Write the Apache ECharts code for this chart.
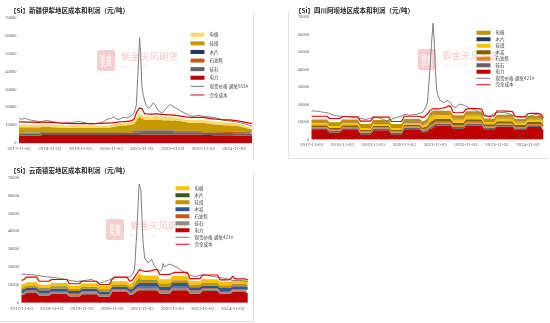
<!DOCTYPE html>
<html><head><meta charset="utf-8">
<script src="https://cdn.jsdelivr.net/npm/echarts@6/dist/echarts.min.js"></script>
<style>html,body{margin:0;padding:0;background:#fff}#c{width:550px;height:323px}</style>
</head><body><div id="c"></div>
<script>
// ---------- tick labels / categories ----------
const xTickLabels = ['2017-11-03','2018-11-03','2019-11-03','2020-11-03','2021-11-03','2022-11-03','2023-11-03','2024-11-03'];
const yTicks = [0,10000,20000,30000,40000,50000,60000,70000];
function monthCats(n){const out=[];let y=2017,m=11;for(let i=0;i<n;i++){out.push(y+'-'+String(m).padStart(2,'0')+'-03');m++;if(m>12){m=1;y++;}}return out;}

// ---------- Chart 1 : 新疆伊犁 (monthly, 2017-11 .. 2025-06) ----------
const xjElec = [
4000,4000,4000,4000,4000,4000,4000,4000,4000,4500,4500,4500,
4500,4500,4500,4500,4500,4500,4500,4500,4500,4500,4500,4500,
4500,4500,4500,4500,4500,4500,4500,4500,4500,4500,4500,4500,
4500,4500,4500,4500,4500,4500,4500,4500,4500,4500,4500,4500,
4700,4700,4700,4700,4700,4700,4700,4700,4700,4700,4700,4700,
4700,4700,4700,4700,4700,4700,4700,4700,4700,4700,4700,4700,
4500,4500,4500,4500,4400,4400,4400,4400,4300,4300,4300,4300,
4200,4200,4200,4100,4100,4000,4000,4000];
const xjSilica = [
1200,1200,1200,1200,1200,1200,1200,1200,1200,1200,1200,1200,
1200,1200,1200,1200,1200,1200,1200,1200,1200,1200,1200,1200,
1200,1200,1200,1200,1200,1200,1200,1200,1200,1200,1200,1200,
1200,1200,1200,1200,1200,1200,1200,1200,1200,1500,1500,1500,
1500,1500,1500,1500,1500,1500,1500,1500,1500,1500,1500,1500,
1500,1300,1300,1300,1300,1300,1300,1300,1300,1300,1300,1300,
1300,1300,1300,1300,1300,1300,1300,1300,1300,1300,1300,1300,
1300,1300,1300,1300,1300,1300,1300,1300];
const xjCoke = [
500,500,500,500,500,500,500,500,500,500,500,500,
500,500,500,500,500,500,500,500,500,500,500,500,
500,500,500,500,500,500,500,500,500,500,500,500,
500,500,500,500,500,700,700,700,700,700,700,700,
700,700,700,700,700,700,700,700,700,700,700,700,
700,600,600,600,600,600,600,600,600,600,600,600,
600,600,600,600,600,600,600,600,600,600,600,600,
600,600,600,600,600,600,600,600];
const xjWood = [
250,250,250,250,250,250,250,250,250,250,250,250,
250,250,250,250,250,250,250,250,250,250,250,250,
250,250,250,250,250,250,250,250,250,250,250,250,
250,250,250,250,250,250,250,250,250,250,250,250,
250,250,250,250,250,250,250,250,250,250,250,250,
250,250,250,250,250,250,250,250,250,250,250,250,
250,250,250,250,250,250,250,250,250,250,250,250,
250,250,250,250,250,250,250,250];
const xjCoal = [
2850,2850,2850,2850,2850,2850,2850,2850,2850,2550,2550,2450,
2450,2350,2350,2250,2250,2150,2150,2150,1950,1950,1950,1950,
1950,1950,1950,1950,1950,1950,1950,1950,1950,1950,1950,1950,
2350,2650,2950,3150,3150,3150,3250,3450,3750,3750,6050,7850,
6550,5850,5850,5850,5950,6050,6050,5850,5650,5650,5550,5550,
5450,5850,5650,5450,5150,4850,4650,4550,4450,4450,4550,4550,
4650,4450,4250,4050,3950,3750,3650,3550,3550,3550,3450,3350,
3350,3250,3050,2750,2450,2150,1850,1450];
const xjElectrode = [
1400,1400,1400,1400,1400,1400,1400,1400,1400,1400,1400,1400,
1400,1400,1400,1400,1400,1400,1400,1400,1400,1400,1400,1400,
1400,1400,1400,1400,1400,1400,1400,1400,1400,1400,1400,1400,
1400,1400,1400,1400,1400,1400,1400,1400,1400,1800,2000,2200,
1800,1800,1800,1800,1800,1800,1800,1800,1800,1800,1800,1800,
1800,1500,1500,1500,1500,1500,1500,1500,1500,1500,1500,1500,
1500,1500,1500,1500,1500,1500,1500,1500,1500,1500,1500,1500,
1500,1400,1300,1300,1200,1100,1000,1000];
const xjCost = [
11800,11800,11800,11700,11700,11700,11700,11600,11600,11700,11700,11600,
11600,11500,11400,11300,11200,11100,11000,11000,10900,10800,10800,10800,
10800,10800,10800,10800,10900,10900,10900,11000,11000,11000,11100,11100,
11200,11400,11600,11800,11900,12000,12100,12300,12500,13500,17500,19500,
19300,16500,16300,16200,16200,16300,16300,16200,16000,15900,15800,15800,
15700,15500,15300,15100,14900,14700,14500,14400,14300,14300,14400,14400,
14300,14100,13900,13700,13500,13300,13200,13100,13000,13000,12900,12800,
12700,12500,12300,12000,11700,11400,11100,10800];
// spot price [month index since 2017-11, yuan/t]
const xjPrice = [[0,13800],[1,13300],[2,13700],[3,13600],[4,13000],[5,12700],[6,12400],[7,12300],[8,11800],[9,12000],[10,12500],[11,12600],[12,12300],[13,12000],[14,11800],[15,11600],[16,11300],[17,11000],[18,11200],[19,11500],[20,11300],[21,11500],[22,11800],[23,12000],[24,11800],[25,11500],[26,11300],[27,10800],[28,10600],[29,10800],[30,11000],[31,11000],[32,11300],[33,12000],[34,13000],[35,13500],[36,13800],[37,14700],[38,13500],[39,13200],[40,14000],[41,14300],[42,14000],[43,14500],[44,15500],[45,17000],[45.8,21000],[46.5,40000],[47.1,59000],[47.5,50000],[48.0,32000],[48.5,27000],[49.0,26500],[49.6,21000],[50.5,19500],[51.5,20500],[52.5,22500],[53.3,21000],[54,19000],[55,17500],[56,17000],[57,18500],[58,20500],[59,21500],[60,20500],[61,19800],[62,19000],[63,18000],[64,17300],[65,16500],[66,16000],[67,15200],[68,15000],[69,15300],[70,15500],[71,15200],[72,15000],[73,14800],[74,14600],[75,14500],[76,14400],[77,14000],[78,13600],[79,13200],[80,12900],[81,12600],[82,12400],[83,12200],[84,12000],[85,11800],[86,11500],[87,11200],[88,10800],[89,10300],[90,9800],[91,9300]];

// ---------- Chart 2 : 四川阿坝 (monthly, 2017-11 .. 2025-05) ----------
const scElec = [
5500,5500,5500,5500,5500,5500,5500,4000,4000,4000,4000,4000,
5500,5500,5500,5500,5500,5500,5500,3000,3000,3000,3000,3000,
5300,5300,5300,5300,5300,5300,5300,3000,3000,3000,3000,3000,
5800,5800,5800,5800,5800,5800,5800,4200,4200,4500,6000,6500,
8000,8000,8000,8000,8000,8000,8000,6000,6000,6000,6000,6000,
8000,8000,8000,8000,8000,8000,8000,5800,5800,5800,5800,5800,
7500,7500,7500,7500,7500,7500,7500,5500,5500,5500,5500,5500,
7200,7200,7200,7200,7200,7200,5500];
const scSilica = [
1000,1000,1000,1000,1000,1000,1000,1000,1000,1000,1000,1000,
1000,1000,1000,1000,1000,1000,1000,1000,1000,1000,1000,1000,
1000,1000,1000,1000,1000,1000,1000,1000,1000,1000,1000,1000,
1000,1000,1000,1000,1000,1000,1000,1000,1000,1100,1200,1200,
1200,1200,1200,1200,1200,1200,1200,1200,1200,1200,1200,1200,
1200,1200,1200,1200,1200,1200,1200,1000,1000,1000,1000,1000,
1000,1000,1000,1000,1000,1000,1000,1000,1000,1000,1000,1000,
1000,1000,1000,1000,1000,1000,1000];
const scCoke = [
600,600,600,600,600,600,600,600,600,600,600,600,
600,600,600,600,600,600,600,600,600,600,600,600,
600,600,600,600,600,600,600,600,600,600,600,600,
600,600,600,600,600,600,600,600,700,800,1000,1200,
1000,1000,1000,1000,1000,1000,1000,900,900,900,900,900,
900,900,900,900,900,900,900,700,700,700,700,700,
700,700,700,700,700,700,700,700,700,700,700,700,
700,700,700,700,700,700,700];
const scCharcoal = [
1000,1000,1000,1000,1000,1000,1000,1000,1000,1000,1000,1000,
1000,1000,1000,1000,1000,1000,1000,1000,1000,1000,1000,1000,
1000,1000,1000,1000,1000,1000,1000,1000,1000,1000,1000,1000,
1000,1000,1000,1000,1000,1000,1000,1100,1200,1300,1600,1800,
1600,1600,1600,1600,1600,1600,1600,1500,1500,1500,1500,1500,
1500,1500,1500,1500,1500,1500,1500,1200,1200,1200,1200,1200,
1200,1200,1200,1200,1200,1200,1200,1200,1200,1200,1200,1200,
1200,1200,1200,1200,1200,1200,1200];
const scCoal = [
1300,1300,1300,1300,1300,1300,1300,1300,1300,1300,1300,1300,
1300,1300,1300,1300,1300,1300,1300,1300,1300,1300,1300,1300,
1300,1300,1300,1300,1300,1300,1300,1300,1300,1300,1300,1300,
1300,1300,1300,1300,1300,1300,1300,1400,1600,2000,2800,3200,
2200,2200,2200,2200,2200,2200,2200,2000,2000,2000,2000,2000,
2200,2200,2200,2200,2200,2200,2200,1500,1500,1500,1500,1500,
1800,1800,1800,1800,1800,1800,1800,1500,1500,1500,1500,1500,
1500,1500,1500,1500,1500,1500,1500];
const scWood = [
300,300,300,300,300,300,300,300,300,300,300,300,
300,300,300,300,300,300,300,300,300,300,300,300,
300,300,300,300,300,300,300,300,300,300,300,300,
300,300,300,300,300,300,300,300,300,300,300,300,
300,300,300,300,300,300,300,300,300,300,300,300,
300,300,300,300,300,300,300,300,300,300,300,300,
300,300,300,300,300,300,300,300,300,300,300,300,
300,300,300,300,300,300,300];
const scElectrode = [
1700,1700,1700,1700,1700,1700,1700,1700,1700,1700,1700,1700,
1700,1700,1700,1700,1700,1700,1700,1700,1700,1700,1700,1700,
1700,1700,1700,1700,1700,1700,1700,1700,1700,1700,1700,1700,
1700,1700,1700,1700,1700,1700,1700,1700,1800,1900,2100,2300,
2100,2100,2100,2100,2100,2100,2100,2000,2000,2000,2000,2000,
2000,2000,2000,2000,2000,2000,2000,1500,1500,1500,1500,1500,
1700,1700,1700,1700,1700,1700,1700,1500,1500,1500,1500,1500,
1500,1500,1500,1500,1500,1500,1500];
const scCost = [
13300,13300,13300,13300,13300,13300,13300,12000,12000,12000,12000,12000,
13000,13000,13000,13000,13000,13000,13000,10500,10500,10500,10500,10500,
12800,12800,12800,12800,12800,12800,12800,10300,10300,10300,10300,10300,
13300,13300,13300,13300,13300,13300,13300,12500,13200,14500,16500,17500,
17500,17500,17700,18000,18200,19200,19000,15500,15300,15300,15300,15500,
17300,17600,17700,17700,17600,17500,17400,13800,13300,13300,13300,13500,
16300,16300,16300,16200,16200,16100,16000,13300,12900,12900,12900,13000,
14700,14900,14900,14900,14900,14500,12400];
const scPrice = [[0,16300],[1,16300],[2,16200],[3,16000],[4,15700],[5,15500],[6,15300],[7,14800],[8,14200],[9,13700],[10,13500],[11,13300],[12,13300],[13,13200],[14,13100],[15,12900],[16,12700],[17,12500],[18,12300],[19,12000],[20,11800],[21,11400],[22,11800],[23,12300],[24,12600],[25,12700],[26,12500],[27,12000],[28,11400],[29,10800],[30,11000],[31,11500],[32,12000],[33,12600],[34,13000],[35,13300],[36,14300],[37,14200],[38,13900],[39,14000],[40,14300],[41,14500],[42,15000],[43,15300],[44,17500],[45,21000],[46,40000],[46.6,55000],[47.2,66500],[47.6,58000],[48.1,40000],[48.6,28000],[49.2,25000],[49.8,22500],[50.5,21500],[51.5,21000],[52.5,22500],[53.2,23500],[54,21000],[54.7,19200],[56,18200],[57.3,20200],[58.6,19800],[59.9,19200],[61.2,17800],[62.5,17500],[63.8,16700],[65,15500],[66.3,14300],[67.5,13800],[68.9,13300],[70,14000],[71.5,15300],[73,15500],[75.4,15300],[77,14500],[79.4,13300],[81,13000],[83.3,12700],[85,13500],[87.2,14300],[89,13500],[90,12300]];

// ---------- Chart 3 : 云南德宏 (monthly, 2017-11 .. 2025-05) ----------
const ynElec = [
4500,4500,5500,5500,5500,5500,5500,4000,4000,4000,4000,4000,
5000,5000,5000,5000,5000,5000,5000,3500,3500,3500,3500,3500,
4800,4800,4800,4800,4800,4800,4800,3300,3300,3300,3300,3300,
6000,6000,6000,6000,6000,6000,6000,4500,4500,5500,6500,7000,
7000,7000,7000,7000,7000,7000,7000,5000,5000,5000,5000,5000,
7000,7000,7000,7000,7000,7000,7000,5000,5000,5000,5000,5000,
6500,6500,6500,6500,6500,6500,6500,5000,5000,5000,5000,5000,
6000,6000,6000,6000,6000,6000,5500];
const ynSilica = [
1000,1000,1000,1000,1000,1000,1000,1000,1000,1000,1000,1000,
1000,1000,1000,1000,1000,1000,1000,1000,1000,1000,1000,1000,
1000,1000,1000,1000,1000,1000,1000,1000,1000,1000,1000,1000,
1000,1000,1000,1000,1000,1000,1000,1000,1000,1100,1200,1200,
1200,1200,1200,1200,1200,1200,1200,1200,1200,1200,1200,1200,
1200,1200,1200,1200,1200,1200,1200,1200,1200,1200,1200,1200,
1000,1000,1000,1000,1000,1000,1000,1000,1000,1000,1000,1000,
1000,1000,1000,1000,1000,1000,1000];
const ynCoke = [
500,500,500,500,500,500,500,500,500,500,500,500,
500,500,500,500,500,500,500,500,500,500,500,500,
500,500,500,500,500,500,500,500,500,500,500,500,
500,500,500,500,500,500,500,500,600,700,800,800,
800,800,800,800,800,800,800,800,800,800,800,800,
800,800,800,800,800,800,800,800,800,800,800,800,
600,600,600,600,600,600,600,600,600,600,600,600,
600,600,600,600,600,600,600];
const ynCharcoal = [
1500,1500,1500,1500,1500,1500,1500,1500,1500,1500,1500,1500,
1500,1500,1500,1500,1500,1500,1500,1500,1500,1500,1500,1500,
1500,1500,1500,1500,1500,1500,1500,1500,1500,1500,1500,1500,
1500,1500,1500,1500,1500,1500,1500,1500,1600,1800,2000,2200,
2000,2000,2000,2000,2000,2000,2000,2000,2000,2000,2000,2000,
2000,2000,2000,2000,2000,2000,2000,1600,1600,1600,1600,1600,
1600,1600,1600,1600,1600,1600,1600,1600,1600,1600,1600,1600,
1600,1600,1600,1600,1600,1600,1600];
const ynCoal = [
1000,1000,1000,1000,1000,1000,1000,1000,1000,1000,1000,1000,
1000,1000,1000,1000,1000,1000,1000,1000,1000,1000,1000,1000,
1000,1000,1000,1000,1000,1000,1000,1000,1000,1000,1000,1000,
1000,1000,1000,1000,1000,1000,1000,1000,1200,1600,2200,2500,
1500,1500,1500,1500,1500,1500,1500,1500,1500,1500,1500,1500,
1400,1400,1400,1400,1400,1400,1400,1200,1200,1200,1200,1200,
1200,1200,1200,1200,1200,1200,1200,1200,1200,1200,1200,1200,
1200,1200,1200,1200,1200,1200,1200];
const ynWood = [
200,200,200,200,200,200,200,200,200,200,200,200,
200,200,200,200,200,200,200,200,200,200,200,200,
200,200,200,200,200,200,200,200,200,200,200,200,
200,200,200,200,200,200,200,200,200,200,200,200,
200,200,200,200,200,200,200,200,200,200,200,200,
200,200,200,200,200,200,200,200,200,200,200,200,
200,200,200,200,200,200,200,200,200,200,200,200,
200,200,200,200,200,200,200];
const ynElectrode = [
1800,1800,1800,1800,1800,1800,1800,1800,1800,1800,1800,1800,
1800,1800,1800,1800,1800,1800,1800,1800,1800,1800,1800,1800,
1800,1800,1800,1800,1800,1800,1800,1800,1800,1800,1800,1800,
1800,1800,1800,1800,1800,1800,1800,1800,1900,2100,2400,2600,
2500,2500,2500,2500,2500,2500,2500,2500,2500,2500,2500,2500,
2500,2500,2500,2500,2500,2500,2500,2000,2000,2000,2000,2000,
2000,2000,2000,2000,2000,2000,2000,2000,2000,2000,2000,2000,
2000,2000,2000,2000,2000,2000,2000];
const ynCost = [
12500,13000,14300,14300,14300,14300,14300,12000,12000,12000,12000,12000,
13000,13000,13000,13000,13000,13000,13000,10600,10600,10600,10600,10600,
12000,12000,12000,12000,12000,12000,12000,10200,10200,10200,10200,10200,
13000,14300,14300,14300,14300,14300,14300,12000,12500,14500,16500,18500,
18000,17500,17500,17800,18000,18500,18500,15800,15800,15800,15800,15800,
16500,17000,17000,17000,17000,17000,17000,13500,13500,13500,13500,13500,
15500,15500,15500,15500,15500,15500,15500,12800,12800,12800,12800,13000,
14800,13300,13300,13300,13300,13300,12800];
const ynPrice = [[0,16000],[2,15900],[4,15700],[6,15300],[8,14900],[10,14500],[12,14200],[14,13900],[16,13500],[18,12900],[20,12300],[22,11900],[24,12200],[26,12600],[28,13000],[29,12200],[31,10900],[33,11800],[35,12800],[37,14300],[39,14000],[41,14000],[43,14500],[44,15500],[45,18500],[46,43000],[46.8,66500],[47.5,63000],[48.3,35000],[49,25000],[50.3,22300],[51.7,24200],[53,20400],[54,19000],[55,17500],[55.8,18500],[56.3,22000],[56.8,20000],[57.5,21000],[58.9,21700],[60,21000],[61.5,20000],[63,18800],[64.2,17500],[65.5,16500],[66.8,15700],[68,15000],[69.4,14700],[71,15300],[72.2,15700],[74,15300],[76.1,14700],[78,14200],[80.1,13800],[82,13300],[84,12500],[86.7,12500],[88,12200],[90,11900]];

// ---------- build ----------
const NUMF = 'Liberation Serif';
const CJKF = '"Noto Sans CJK SC", sans-serif';
const LINE_ICON = 'path://M0,0H28V2H0Z';
const panels = [
  {key:'1', title:'【Si】新疆伊犁地区成本和利润（元/吨）', titlePos:[5,2],
   grid:{left:19,top:18,width:233,height:125}, n:92,
   legend:{left:190.5,top:32.5,gap:4.1},
   stacks:[['电力',xjElec,'#C00000'],['硅石',xjSilica,'#636363'],['石油焦',xjCoke,'#C55A11'],['木片',xjWood,'#203864'],['硅煤',xjCoal,'#C59A00'],['电极',xjElectrode,'#FFD966']],
   legendOrder:['电极','硅煤','木片','石油焦','硅石','电力','现货价格-通氧553#','完全成本'],
   priceName:'现货价格-通氧553#', price:xjPrice, cost:xjCost},
  {key:'2', title:'【Si】四川阿坝地区成本和利润（元/吨）', titlePos:[290,2],
   grid:{left:311.5,top:17,width:231.8,height:122.5}, n:91,
   legend:{left:476.5,top:30.5,gap:2},
   stacks:[['电力',scElec,'#C00000'],['硅石',scSilica,'#636363'],['石油焦',scCoke,'#ED7D31'],['木炭',scCharcoal,'#7F6000'],['硅煤',scCoal,'#FFC000'],['木片',scWood,'#203864'],['电极',scElectrode,'#BF9000']],
   legendOrder:['电极','木片','硅煤','木炭','石油焦','硅石','电力','现货价格-通氧421#','完全成本'],
   priceName:'现货价格-通氧421#', price:scPrice, cost:scCost},
  {key:'3', title:'【Si】云南德宏地区成本和利润（元/吨）', titlePos:[5,162],
   grid:{left:21.5,top:177.7,width:226.2,height:125}, n:91,
   legend:{left:175.5,top:186,gap:2.5},
   stacks:[['电力',ynElec,'#C00000'],['硅石',ynSilica,'#8C8C8C'],['石油焦',ynCoke,'#C55A11'],['木炭',ynCharcoal,'#2F5597'],['硅煤',ynCoal,'#BF9000'],['木片',ynWood,'#375623'],['电极',ynElectrode,'#FFC000']],
   legendOrder:['电极','木片','硅煤','木炭','石油焦','硅石','电力','现货价格-通氧421#','完全成本'],
   priceName:'现货价格-通氧421#', price:ynPrice, cost:ynCost}
];

const option = {animation:false, backgroundColor:'#fff', title:[], grid:[], xAxis:[], yAxis:[], legend:[], series:[], graphic:[]};
panels.forEach((p, k) => {
  const cats = monthCats(p.n);
  option.title.push({text:p.title, left:p.titlePos[0], top:p.titlePos[1],
    textStyle:{fontSize:6.5, fontWeight:'bold', color:'#262626', fontFamily:CJKF}});
  option.grid.push(Object.assign({outerBoundsMode:'none', containLabel:false}, p.grid));
  option.xAxis.push({type:'category', gridIndex:k, data:cats, boundaryGap:false,
    axisLine:{show:true, lineStyle:{color:'#d9d9d9', width:0.8}}, axisTick:{show:false},
    axisLabel:{interval:11, fontSize:5, color:'#595959', fontFamily:NUMF, margin:3,
      formatter:(v, i) => xTickLabels[Math.round(i/12)] || v}, splitLine:{show:false}});
  option.xAxis.push({type:'value', gridIndex:k, min:0, max:p.n-1, show:false});
  option.yAxis.push({type:'value', gridIndex:k, min:0, max:70000, interval:10000,
    axisLine:{show:false}, axisTick:{show:false}, splitLine:{show:false},
    axisLabel:{fontSize:4.5, color:'#595959', fontFamily:NUMF, margin:2.5,
      formatter:v => yTicks.includes(v) ? String(v) : ''}});
  p.stacks.forEach(([name, arr, color]) => {
    option.series.push({name:name+'@'+p.key, type:'line', xAxisIndex:2*k, yAxisIndex:k, stack:'s'+p.key,
      data:arr, symbol:'none', showSymbol:false, color:color, itemStyle:{color:color},
      lineStyle:{width:0, color:color}, areaStyle:{color:color, opacity:1}, z:2});
  });
  option.series.push({name:p.priceName+'@'+p.key, type:'line', xAxisIndex:2*k+1, yAxisIndex:k,
    data:p.price, symbol:'none', showSymbol:false, color:'#7F7F7F', itemStyle:{color:'#7F7F7F'}, lineStyle:{width:1, color:'#7F7F7F'}, z:3});
  option.series.push({name:'完全成本@'+p.key, type:'line', xAxisIndex:2*k, yAxisIndex:k,
    data:p.cost, symbol:'none', showSymbol:false, color:'#E00000', itemStyle:{color:'#E00000'}, lineStyle:{width:1.2, color:'#E00000'}, z:4});
  option.legend.push({orient:'vertical', left:p.legend.left, top:p.legend.top, itemGap:p.legend.gap,
    itemWidth:14, itemHeight:4, padding:0, selectedMode:false, symbolKeepAspect:true,
    textStyle:{fontSize:4.5, color:'#404040', fontFamily:CJKF},
    formatter:n => n.split('@')[0],
    data:p.legendOrder.map(n => {
      const isLine = n.indexOf('现货')===0 || n==='完全成本';
      return {name:n+'@'+p.key, icon: isLine ? LINE_ICON : 'rect'};
    })});
});

// panel borders + watermark (decoration)
const wm = (x, y) => ({type:'group', left:x, top:y, silent:true, z:1, children:[
  {type:'rect', shape:{x:0,y:0,width:18,height:21,r:2}, style:{fill:'#F5CFCF'}},
  {type:'text', style:{x:9,y:10.5,text:'紫金\n天风',fill:'#FDF0F0',fontSize:6,fontWeight:'bold',align:'center',verticalAlign:'middle',fontFamily:CJKF}},
  {type:'text', style:{x:24,y:2,text:'紫金天风期货',fill:'#F3CACA',fontSize:9.5,fontFamily:CJKF}},
  {type:'text', style:{x:24,y:15,text:'金 融 产 品   研 究 所',fill:'#EEEEEE',fontSize:3,fontFamily:CJKF}}
]});
option.graphic = [
  wm(97,50), wm(418,49), wm(106,219),
  {type:'line', silent:true, shape:{x1:253.5,y1:12,x2:253.5,y2:160}, style:{stroke:'#e3e3e3',lineWidth:1}},
  {type:'line', silent:true, shape:{x1:288.5,y1:12,x2:288.5,y2:158.5}, style:{stroke:'#e3e3e3',lineWidth:1}},
  {type:'line', silent:true, shape:{x1:288.5,y1:158.5,x2:549,y2:158.5}, style:{stroke:'#e3e3e3',lineWidth:1}},
  {type:'line', silent:true, shape:{x1:253.5,y1:172,x2:253.5,y2:321.5}, style:{stroke:'#e3e3e3',lineWidth:1}},
  {type:'line', silent:true, shape:{x1:0,y1:321.5,x2:253.5,y2:321.5}, style:{stroke:'#e3e3e3',lineWidth:1}}
];

const chart = echarts.init(document.getElementById('c'), null, {renderer:'canvas'});
chart.setOption(option);
</script></body></html>
